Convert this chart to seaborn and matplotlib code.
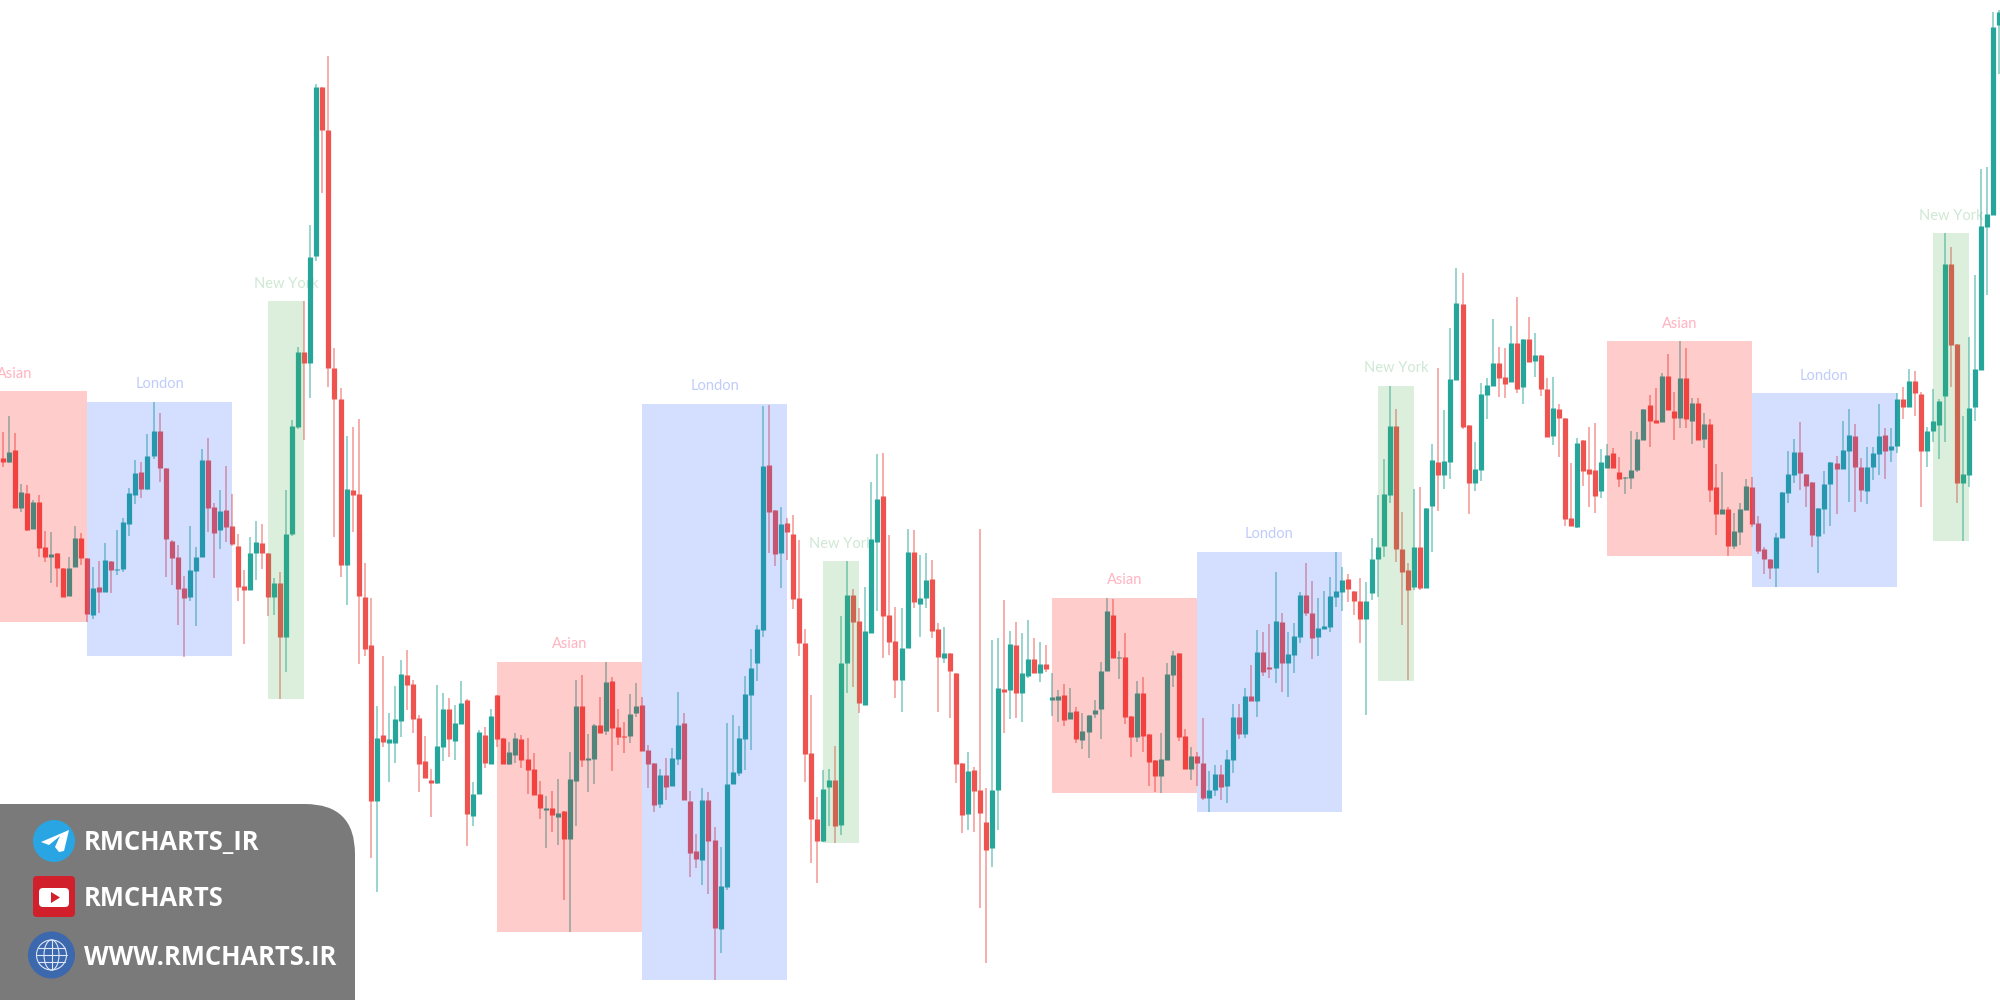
import numpy as np
import pandas as pd
import seaborn as sns
import matplotlib
matplotlib.use("Agg")
import matplotlib.pyplot as plt
from matplotlib.patches import Rectangle, FancyBboxPatch, Circle, Ellipse, Polygon

directions = ("rgrgrgrrgr" "rggrrgrgrg" "gggrggrrrr" "rgggrrgrrr" "rggrrgrggg" "rggrrrrgrr" "rrgrgggrrr" "rrggrggrgg"
              "rgrrggrrrr" "grgrggrggr" "grrrggrrrg" "rggrrrgrrg" "gggggggrrg" "rrrrrrggrg" "grrgggrrrg" "grggrrgrrr"
              "grrrggrgrg" "grgrggrgrg" "ggggrgrrgr" "rrgggrrgrr" "ggrggrgrgr" "rgrgggrrgg" "gggrrrgggg" "grrrgrggrg"
              "ggrrggggrr" "grgrgrrgrr" "rgrrrggrrg" "gggrrgrrgr" "grgrrgrggg" "rrrrggggrr" "rgggrggrrg" "ggrggrgrrg"
              "gggrrggggg" "gg")

body_high = [
542,548,550,508,507,498,498,453,446,447, 432,432,462,462,442,412,413,440,439,431,
478,507,527,528,544,569,569,532,459,443, 412,430,443,540,540,493,489,490,474,454,
414,447,458,457,447,417,417,466,574,648, 648,743,913,913,870,632,601,511,510,506,
403,355,262,265,261,281,326,325,316,282, 239,220,254,291,291,277,297,300,206,268,
265,284,305,262,248,262,261,241,231,206, 192,192,187,189,221,294,294,242,275,275,
318,319,273,264,286,294,295,250,237,225, 225,242,275,277,199,149,200,200,160,114,
216,228,262,306,332,371,534,535,490,476, 477,466,402,357,247,181,211,220,220,337,
405,405,379,369,461,501,504,385,359,352, 448,448,402,420,421,371,347,347,327,237,
229,230,210,178,210,312,311,356,355,327, 341,341,336,336,303,304,305,288,289,269,
285,290,329,389,385,343,343,284,307,307, 266,240,241,326,345,347,264,244,244,237,
210,226,226,241,283,283,304,304,348,348, 333,379,378,346,364,405,405,387,372,374,
404,409,420,421,409,399,399,441,453,506, 574,574,451,430,453,453,492,540,538,539,
621,697,696,575,531,606,615,637,637,623, 657,657,661,661,645,645,611,592,591,582,
482,557,560,531,530,538,545,547,528,523, 530,561,591,595,580,624,624,589,622,622,
597,597,576,576,513,491,491,469,491,514, 513,477,451,441,463,508,526,548,548,526,
518,492,516,538,537,550,565,564,533,533, 547,564,565,554,601,601,619,619,606,569,
579,599,736,736,656,526,592,631,774,786, 973,988]

body_low = [
538,538,492,492,470,471,452,443,443,432, 403,404,433,442,386,385,408,408,430,430,
431,476,505,511,511,544,532,461,442,411, 402,403,429,443,492,467,470,473,456,413,
410,410,447,447,403,403,363,363,466,573, 637,637,744,870,632,601,435,435,505,404,
351,199,199,258,257,257,279,315,281,236, 222,217,217,253,261,259,276,186,184,206,
237,236,261,236,236,245,240,230,205,192, 190,185,183,161,161,219,240,240,241,267,
269,272,263,263,264,287,249,236,195,196, 213,214,241,200,147,141,140,159,72,71,
113,216,227,261,305,337,370,488,446,447, 468,401,357,246,181,159,159,213,174,175,
337,378,297,295,367,458,384,358,320,320, 352,398,396,402,369,343,342,329,236,185,
186,209,187,150,152,210,308,310,307,307, 324,327,327,331,300,300,280,281,261,260,
268,286,291,329,342,342,283,263,263,264, 238,224,224,240,325,263,231,231,237,202,
202,210,213,214,240,266,266,299,299,328, 331,332,337,337,345,363,387,362,363,371,
373,403,408,411,399,381,381,407,441,454, 505,451,428,410,413,412,412,494,525,525,
538,620,573,517,517,530,605,614,622,616, 618,611,613,638,639,611,563,564,582,481,
474,473,529,526,504,509,532,532,521,522, 522,530,560,579,577,578,590,582,582,581,
579,560,561,510,486,486,454,454,468,490, 476,449,441,432,432,462,507,525,527,514,
465,464,491,516,531,531,549,533,510,509, 533,546,549,550,554,593,593,607,549,549,
569,575,604,655,517,517,525,593,630,773, 785,975]

wick_high = [
568,584,567,516,515,500,505,469,468,447, 432,443,474,467,442,433,439,457,439,470,
482,512,540,538,566,598,587,532,460,455, 424,474,453,551,562,497,510,534,506,466,
430,463,479,476,447,422,428,510,580,653, 699,775,916,913,944,652,612,564,573,581,
437,402,294,344,287,314,340,350,320,285, 264,231,315,307,302,295,319,301,218,270,
273,291,305,262,258,267,265,262,247,219, 204,209,221,189,248,320,325,266,276,303,
338,323,291,278,306,317,303,255,237,231, 242,252,308,287,209,166,212,208,173,153,
277,285,274,324,351,375,594,595,490,493, 482,485,460,371,305,203,230,231,254,384,
439,411,392,413,518,546,547,465,393,392, 471,470,445,447,440,377,373,347,327,237,
248,233,471,212,360,362,400,369,378,367, 380,362,358,355,327,310,316,312,293,287,
285,300,338,402,401,349,367,284,319,323, 266,240,267,337,349,347,271,253,248,282,
229,235,235,250,296,296,312,335,370,368, 376,428,387,368,377,408,437,419,402,409,
423,448,433,426,409,422,418,462,505,541, 614,591,488,437,511,513,492,556,632,590,
672,732,727,575,558,617,622,681,653,652, 674,703,661,683,667,645,622,623,596,582,
537,562,560,573,577,551,556,552,543,523, 569,568,591,605,612,627,646,608,659,652,
602,602,587,581,536,528,493,487,497,521, 523,484,453,441,467,508,549,561,578,526,
518,492,529,538,544,579,591,576,542,553, 553,596,572,572,607,613,631,629,608,573,
611,601,767,753,656,584,663,725,831,833, 988,990]

wick_low = [
533,537,492,488,469,471,443,438,417,413, 403,404,433,435,378,381,387,408,407,425,
428,464,496,502,510,541,518,423,415,375, 343,399,374,443,468,422,451,458,454,399,
356,410,420,431,384,385,301,328,464,571, 560,602,739,807,613,463,423,395,468,336,
344,142,108,253,218,237,263,290,267,208, 222,183,216,239,243,240,276,154,174,206,
232,236,253,236,235,237,232,206,205,181, 152,168,155,100,68,174,233,208,216,267,
265,229,255,247,257,283,249,212,188,192, 200,214,235,200,123,132,115,106,20,47,
110,216,224,230,250,319,363,447,434,412, 440,391,344,218,137,117,158,174,157,165,
307,313,287,295,367,389,342,345,302,288, 352,392,363,392,362,288,337,282,217,167,
170,168,92,37,133,170,267,281,282,278, 322,327,318,328,284,278,274,281,257,251,
242,282,261,329,342,321,276,243,258,248, 214,208,207,240,313,259,231,220,214,200,
188,204,200,197,227,261,262,299,283,324, 322,317,308,303,327,357,384,341,344,371,
368,393,389,398,385,357,285,400,403,443, 497,438,375,320,410,410,412,448,489,511,
521,620,571,486,509,519,581,614,603,602, 618,607,596,638,623,604,563,555,543,474,
474,472,514,493,487,502,532,532,513,506, 511,528,560,553,577,578,590,560,572,572,
556,560,552,498,465,486,444,451,455,490, 473,446,426,421,413,462,497,517,510,493,
453,427,466,474,486,531,498,488,498,496, 520,525,521,538,547,581,593,584,493,533,
558,541,558,613,497,459,513,579,630,705, 785,926]

# sessions: name, first bar, last bar, upper price, lower price
session_names = ["Asian", "London", "New York", "Asian", "London", "New York",
                 "Asian", "London", "New York", "Asian", "London", "New York"]
session_start = [-10, 14, 44, 82, 106, 136, 174, 198, 228, 266, 290, 320]
session_end = [14, 38, 50, 106, 130, 142, 198, 222, 234, 290, 314, 326]
session_top = [609, 598, 699, 338, 596, 439, 402, 448, 614, 659, 607, 767]
session_bottom = [378, 344, 301, 68, 20, 157, 207, 188, 319, 444, 413, 459]

panel_labels = ["RMCHARTS_IR", "RMCHARTS", "WWW.RMCHARTS.IR"]

UP, DOWN = "#26A69A", "#EF5350"
box_rgb = {"Asian": "#FF0000", "London": "#2962FF", "New York": "#4CAF50"}
label_rgb = {"Asian": "#FFB4C0", "London": "#C0CCFA", "New York": "#CFE8D3"}

sns.set_theme(style="white")
plt.rcParams["font.family"] = ["Lato", "DejaVu Sans"]

bars = np.arange(len(directions))
pal = {"g": UP, "r": DOWN}
wicks = pd.concat([pd.DataFrame({"bar": bars, "price": wick_high, "dir": list(directions)}),
                   pd.DataFrame({"bar": bars, "price": wick_low, "dir": list(directions)})])
bodies = pd.concat([pd.DataFrame({"bar": bars, "price": body_high, "dir": list(directions)}),
                    pd.DataFrame({"bar": bars, "price": body_low, "dir": list(directions)})])

fig = plt.figure(figsize=(20, 10), dpi=100, facecolor="white")
ax = fig.add_axes([0, 0, 1, 1])
sns.lineplot(data=wicks, x="bar", y="price", hue="dir", units="bar", estimator=None, palette=pal,
             legend=False, linewidth=1.1, alpha=0.6, solid_capstyle="butt", sort=False, zorder=2, ax=ax)
sns.lineplot(data=bodies, x="bar", y="price", hue="dir", units="bar", estimator=None, palette=pal,
             legend=False, linewidth=3.75, solid_capstyle="butt", sort=False, zorder=3, ax=ax)

for name, s, e, t, b in zip(session_names, session_start, session_end, session_top, session_bottom):
    ax.add_patch(Rectangle((s, b), e - s, t - b, facecolor=box_rgb[name], edgecolor="none", alpha=0.2, zorder=4))
    ax.text((s + e) / 2, t + 10.5, name, color=label_rgb[name], ha="center", va="bottom", fontsize=10.5, zorder=1)

ax.set_xlim(-0.448, 331.1)
ax.set_ylim(0, 1000)
ax.axis("off")

# branding panel, in pixel units of the picture
pn = fig.add_axes([0, 0, 1, 1], zorder=5)
pn.set_xlim(0, 2000)
pn.set_ylim(1000, 0)
pn.axis("off")
pn.add_patch(FancyBboxPatch((-80, 804), 435, 300, boxstyle="round,pad=0,rounding_size=50",
                            facecolor="#7A7A7A", edgecolor="none"))
pn.add_patch(Circle((54, 841), 21, facecolor="#2AA5E3", edgecolor="none"))
pn.add_patch(Polygon([(41, 842), (69, 830), (64, 851), (59, 852), (55, 847), (60, 836), (49, 845)],
                     facecolor="white", edgecolor="none"))
pn.add_patch(FancyBboxPatch((33, 876), 42, 41, boxstyle="round,pad=0,rounding_size=4",
                            facecolor="#D1202C", edgecolor="none"))
pn.add_patch(FancyBboxPatch((39, 888), 30, 19, boxstyle="round,pad=0,rounding_size=4",
                            facecolor="white", edgecolor="none"))
pn.add_patch(Polygon([(51, 892), (60, 897.5), (51, 903)], facecolor="#D1202C", edgecolor="none"))
pn.add_patch(Circle((51.5, 955), 23.5, facecolor="#3C68AE", edgecolor="none"))
pn.add_patch(Circle((51.5, 955), 15, facecolor="none", edgecolor="#DCE6F5", linewidth=0.8))
pn.add_patch(Ellipse((51.5, 955), 15, 30, facecolor="none", edgecolor="#DCE6F5", linewidth=0.8))
for dy in (-7, 0, 7):
    half = (15 ** 2 - dy ** 2) ** 0.5
    pn.plot([51.5 - half, 51.5 + half], [955 + dy, 955 + dy], color="#DCE6F5", lw=0.8)
pn.plot([51.5, 51.5], [940, 970], color="#DCE6F5", lw=0.8)
for txt, tx, ty in zip(panel_labels, (84, 84, 84), (850, 906, 965)):
    pn.text(tx, ty, txt, color="white", family=["Open Sans", "DejaVu Sans"], weight="bold",
            fontsize=18.4, ha="left", va="baseline")

fig.savefig("out.png", dpi=100)
